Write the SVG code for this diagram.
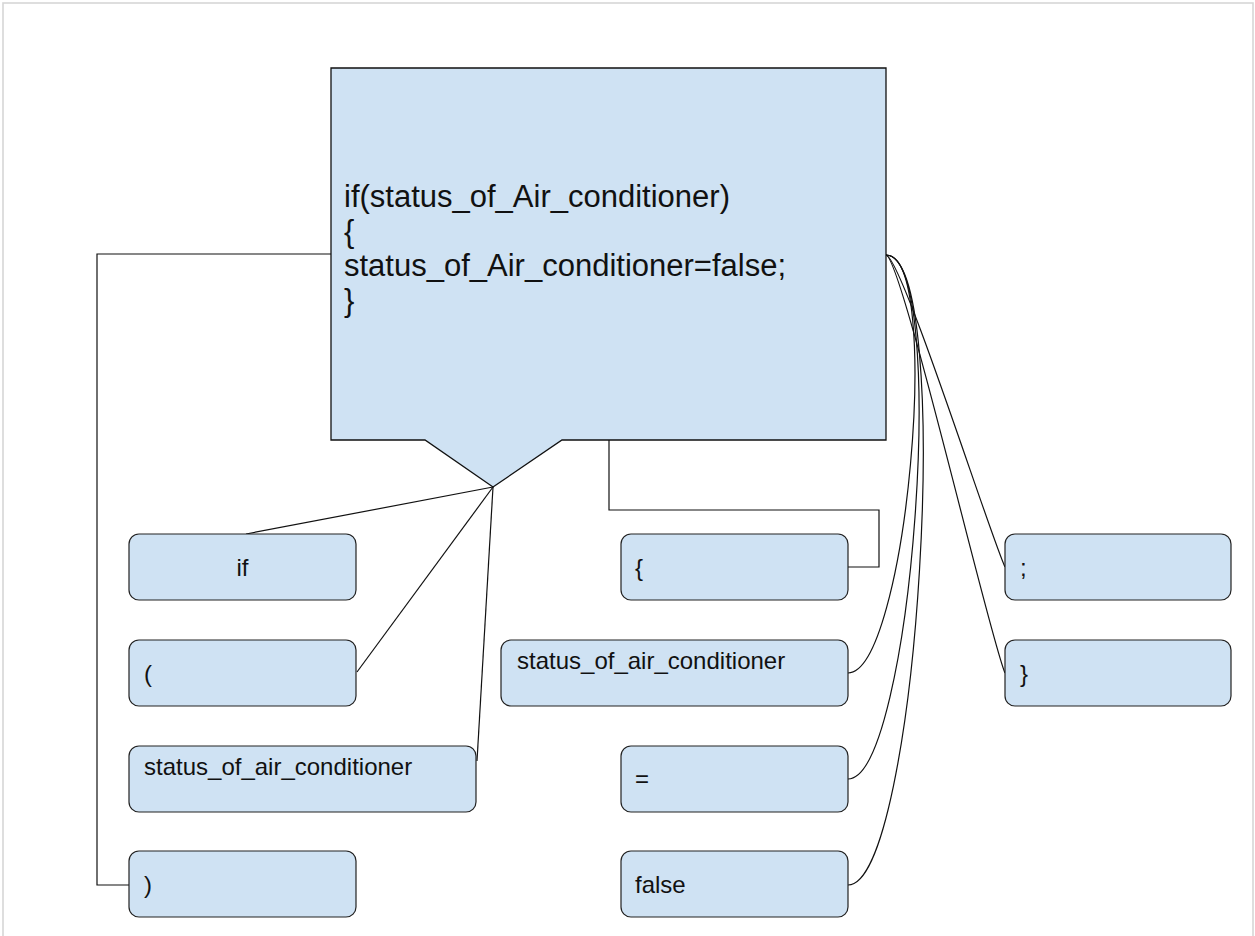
<svg xmlns="http://www.w3.org/2000/svg" width="1255" height="936" viewBox="0 0 1255 936">
<style>
.box{fill:#cfe2f3;stroke:#222;stroke-width:1.2}
.main{fill:#cfe2f3;stroke:#111;stroke-width:1.3}
.conn{fill:none;stroke:#111;stroke-width:1.2}
.t{font-family:"Liberation Sans",Arial,sans-serif;font-size:24px;fill:#111}
.tm{font-family:"Liberation Sans",Arial,sans-serif;font-size:31px;fill:#111}
</style>
<rect x="0" y="0" width="1255" height="936" fill="#fff"/>
<rect x="3" y="3" width="1250" height="945" fill="none" stroke="#d6d6d6" stroke-width="1.6"/>
<g id="connectors">
<path class="conn" d="M493,487 L246,534"/>
<path class="conn" d="M493,487 L357,672"/>
<path class="conn" d="M493,487 L477,761"/>
<path class="conn" d="M331,254 H97 V885 H129"/>
<path class="conn" d="M609,440 V510 H879 V567 H848"/>
<path class="conn" d="M886,255 C944,255 906,673 848,673"/>
<path class="conn" d="M886,255 C950,255 912,779 848,779"/>
<path class="conn" d="M886,255 C956,255 918,885 848,885"/>
<path class="conn" d="M886,255 C902,258 990,535 1005,567"/>
<path class="conn" d="M886,255 C902,258 990,640 1005,673"/>
</g>
<g id="main">
<path class="main" d="M331,68 H886 V440 H562 L493,487 L425,440 H331 Z"/>
<text class="tm" x="344" y="207">if(status_of_Air_conditioner)</text>
<text class="tm" x="344" y="241.5">{</text>
<text class="tm" x="344" y="276">status_of_Air_conditioner=false;</text>
<text class="tm" x="344" y="310.5">}</text>
</g>
<g id="n-if"><rect class="box" x="129" y="534" width="227" height="66" rx="10"/><text class="t" x="242.5" y="576" text-anchor="middle">if</text></g>
<g id="n-lparen"><rect class="box" x="129" y="640" width="227" height="66" rx="10"/><text class="t" x="144" y="682">(</text></g>
<g id="n-status1"><rect class="box" x="129" y="746" width="347" height="66" rx="10"/><text class="t" x="144" y="775">status_of_air_conditioner</text></g>
<g id="n-rparen"><rect class="box" x="129" y="851" width="227" height="66" rx="10"/><text class="t" x="144" y="893">)</text></g>
<g id="n-lbrace"><rect class="box" x="621" y="534" width="227" height="66" rx="10"/><text class="t" x="635" y="576">{</text></g>
<g id="n-status2"><rect class="box" x="501" y="640" width="347" height="66" rx="10"/><text class="t" x="517" y="669">status_of_air_conditioner</text></g>
<g id="n-eq"><rect class="box" x="621" y="746" width="227" height="66" rx="10"/><text class="t" x="635" y="787">=</text></g>
<g id="n-false"><rect class="box" x="621" y="851" width="227" height="66" rx="10"/><text class="t" x="635" y="893">false</text></g>
<g id="n-semi"><rect class="box" x="1005" y="534" width="226" height="66" rx="10"/><text class="t" x="1020" y="576">;</text></g>
<g id="n-rbrace"><rect class="box" x="1005" y="640" width="226" height="66" rx="10"/><text class="t" x="1020" y="682">}</text></g>
</svg>
